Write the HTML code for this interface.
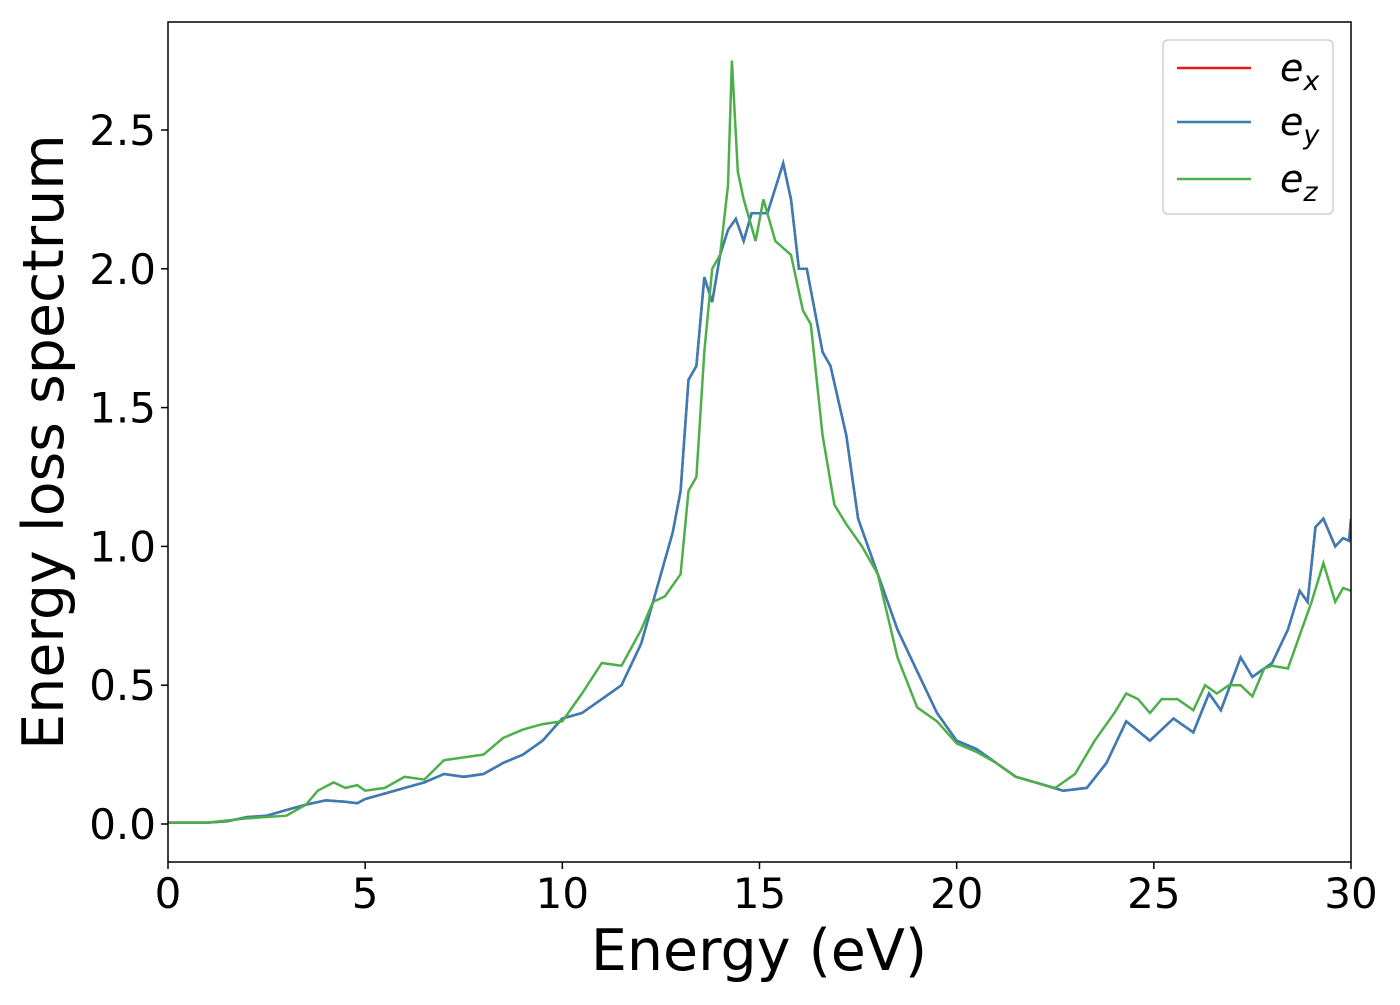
<!DOCTYPE html>
<html><head><meta charset="utf-8"><style>
html,body{margin:0;padding:0;background:#fff;}
svg text{font-family:"DejaVu Sans","Liberation Sans",sans-serif;fill:#000;}
</style></head><body>
<svg id="chart" width="1400" height="1000" xmlns="http://www.w3.org/2000/svg">
<g id="plot"></g>
</svg>
<script>
const ticksX=[0,5,10,15,20,25,30];
const ticksY=[0.0,0.5,1.0,1.5,2.0,2.5];
const tickLabelsY=["0.0","0.5","1.0","1.5","2.0","2.5"];
const blueX=[0,1,1.5,2,2.5,3,3.5,4,4.5,4.8,5,5.5,6,6.5,7,7.5,8,8.5,9,9.5,10,10.5,11,11.5,12,12.5,12.8,13,13.2,13.4,13.6,13.8,14,14.2,14.4,14.6,14.8,15.2,15.6,15.8,16,16.2,16.6,16.8,17.2,17.5,18,18.5,19,19.5,20,20.5,21,21.5,22,22.7,23.3,23.8,24.3,24.9,25.5,26,26.4,26.7,27.2,27.5,28,28.4,28.7,28.9,29.1,29.3,29.6,29.8,29.95,30];
const blueY=[0.005,0.005,0.01,0.025,0.03,0.05,0.07,0.085,0.08,0.075,0.09,0.11,0.13,0.15,0.18,0.17,0.18,0.22,0.25,0.3,0.38,0.40,0.45,0.5,0.65,0.9,1.05,1.2,1.6,1.65,1.97,1.88,2.05,2.14,2.18,2.1,2.2,2.2,2.38,2.25,2.0,2.0,1.7,1.65,1.4,1.1,0.9,0.7,0.55,0.4,0.3,0.27,0.22,0.17,0.15,0.12,0.13,0.22,0.37,0.3,0.38,0.33,0.47,0.41,0.6,0.53,0.58,0.7,0.84,0.8,1.07,1.1,1.0,1.03,1.02,1.1];
const greenX=[0,1,2,3,3.5,3.8,4.2,4.5,4.8,5,5.5,6,6.5,7,7.5,8,8.5,9,9.5,10,10.5,11,11.5,12,12.3,12.6,13,13.2,13.4,13.6,13.8,14,14.2,14.3,14.45,14.6,14.9,15.1,15.4,15.8,16.1,16.3,16.6,16.9,17.2,17.6,18,18.5,19,19.5,20,20.5,21,21.5,22,22.5,23,23.5,24,24.3,24.6,24.9,25.2,25.6,26,26.3,26.6,26.9,27.2,27.5,27.8,28,28.4,28.7,29,29.3,29.6,29.8,30];
const greenY=[0.005,0.005,0.02,0.03,0.07,0.12,0.15,0.13,0.14,0.12,0.13,0.17,0.16,0.23,0.24,0.25,0.31,0.34,0.36,0.37,0.47,0.58,0.57,0.7,0.8,0.82,0.9,1.2,1.25,1.7,2.0,2.05,2.3,2.75,2.35,2.25,2.1,2.25,2.1,2.05,1.85,1.8,1.4,1.15,1.08,1.0,0.9,0.6,0.42,0.37,0.29,0.26,0.22,0.17,0.15,0.13,0.18,0.3,0.4,0.47,0.45,0.4,0.45,0.45,0.41,0.5,0.47,0.5,0.5,0.46,0.56,0.57,0.56,0.68,0.8,0.94,0.8,0.85,0.84];

const L=168,R=1351,T=22,B=862;
const sx=v=>L+(v-0)/30*(R-L);
const sy=v=>824-v*277.6;
const NS="http://www.w3.org/2000/svg";
const plot=document.getElementById('plot');
function mk(tag,attrs,parent){const e=document.createElementNS(NS,tag);for(const k in attrs)e.setAttribute(k,attrs[k]);(parent||plot).appendChild(e);return e;}

function pathD(xs,ys){return xs.map((x,i)=>(i?'L':'M')+sx(x).toFixed(1)+','+sy(ys[i]).toFixed(1)).join(' ');}
const cl=mk('clipPath',{id:'clip'});mk('rect',{x:L,y:T,width:R-L,height:B-T},cl);

const red=mk('path',{d:pathD(blueX,blueY),fill:'none',stroke:'#e41a1c','stroke-width':2.5,'clip-path':'url(#clip)'});


const blue=mk('path',{d:pathD(blueX,blueY),fill:'none',stroke:'#377eb8','stroke-width':2.5,'clip-path':'url(#clip)'});


const green=mk('path',{d:pathD(greenX,greenY),fill:'none',stroke:'#4daf4a','stroke-width':2.5,'clip-path':'url(#clip)'});



const frame=mk('rect',{x:L,y:T,width:R-L,height:B-T,fill:'none',stroke:'#000','stroke-width':1.5});



ticksX.forEach(v=>{
  mk('line',{x1:sx(v),x2:sx(v),y1:B,y2:B+7,stroke:'#000','stroke-width':1.5});
  const t=mk('text',{x:sx(v),y:908,'text-anchor':'middle','font-size':42});
  t.textContent=v;
  
  
});
ticksY.forEach((v,i)=>{
  mk('line',{x1:L-7,x2:L,y1:sy(v),y2:sy(v),stroke:'#000','stroke-width':1.5});
  const t=mk('text',{x:L-12,y:sy(v)+15,'text-anchor':'end','font-size':42});
  t.textContent=tickLabelsY[i];
  
  
});
const xt=mk('text',{x:759,y:970,'text-anchor':'middle','font-size':57});
xt.textContent='Energy (eV)';


const yt=mk('text',{x:63,y:442,'text-anchor':'middle','font-size':57,transform:'rotate(-90 63 442)'});
yt.textContent='Energy loss spectrum';



const lg=mk('g',{});


mk('rect',{x:1163,y:40,width:170,height:174,rx:5,fill:'#fff',stroke:'#d0d0d0','stroke-width':1.5},lg);
const entries=[['#e41a1c','x',68,'legend-entry-ex'],['#377eb8','y',122,'legend-entry-ey'],['#4daf4a','z',179,'legend-entry-ez']];
entries.forEach(e=>{
  const g=mk('g',{},lg);
  
  
  mk('line',{x1:1177,x2:1251,y1:e[2],y2:e[2],stroke:e[0],'stroke-width':2.5},g);
  const t=mk('text',{x:1280,y:e[2]+13,'font-size':38,'font-style':'italic'},g);
  t.textContent='e';
  const s=mk('tspan',{'font-size':27,dy:9},t);
  s.textContent=e[1];
});
</script>
</body></html>
